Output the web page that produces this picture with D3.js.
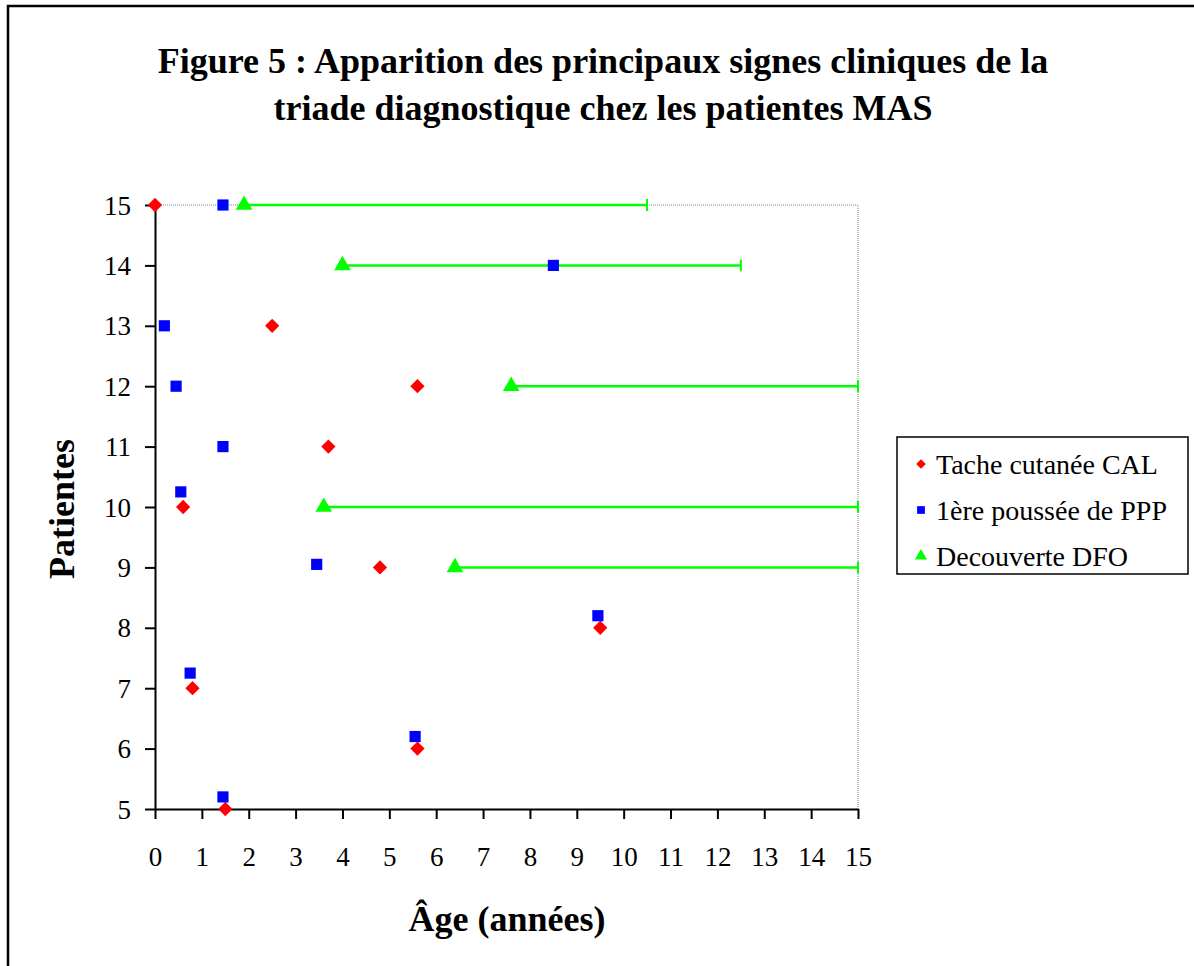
<!DOCTYPE html>
<html>
<head>
<meta charset="utf-8">
<script src="https://cdn.jsdelivr.net/npm/d3@7"></script>
<style>
  body { margin: 0; background: #fff; }
  text { font-family: "Liberation Serif", "Times New Roman", serif; }
</style>
</head>
<body>
<div id="chart"></div>
<script>
var svgWidth = 1194;
var svgHeight = 966;

// data
var ticksX = d3.range(0, 16);
var ticksY = d3.range(5, 16);

var calAge = [0, 2.5, 5.6, 3.7, 0.6, 4.8, 9.5, 0.8, 5.6, 1.5];
var calPat = [15, 13, 12, 11, 10, 9, 8, 7, 6, 5];

var pppAge = [1.45, 8.5, 0.2, 0.45, 1.45, 0.55, 3.45, 9.45, 0.75, 5.55, 1.45];
var pppPat = [15, 14, 13, 12, 11, 10.25, 9.05, 8.2, 7.25, 6.2, 5.2];

var dfoAge = [1.9, 4, 7.6, 3.6, 6.4];
var dfoPat = [15, 14, 12, 10, 9];
var dfoErr = [8.6, 8.5, 7.4, 11.4, 8.6];

var legendLabels = ["Tache cutanée CAL", "1ère poussée de PPP", "Decouverte DFO"];
var colors = ["#ff0000", "#0000ff", "#00ff00"];

var margin = { top: 205, left: 155 };
var width = 703;
var height = 604;

var svg = d3.select("#chart")
  .append("svg")
  .attr("width", svgWidth)
  .attr("height", svgHeight);

// outer frame
svg.append("rect")
  .attr("x", 8).attr("y", 6)
  .attr("width", 1300).attr("height", 1100)
  .attr("fill", "white")
  .attr("stroke", "black")
  .attr("stroke-width", 2.5);

// title
var title = svg.append("text")
  .attr("text-anchor", "middle")
  .attr("font-size", 36)
  .attr("font-weight", "bold");
title.append("tspan").attr("x", 603).attr("y", 73)
  .text("Figure 5 : Apparition des principaux signes cliniques de la");
title.append("tspan").attr("x", 603).attr("y", 120)
  .text("triade diagnostique chez les patientes MAS");

var chartGroup = svg.append("g")
  .attr("transform", `translate(${margin.left}, ${margin.top})`);

var xScale = d3.scaleLinear().domain([0, 15]).range([0, width]);
var yScale = d3.scaleLinear().domain([5, 15]).range([height, 0]);

// plot area border (grey dotted)
chartGroup.append("path")
  .attr("d", `M0,0 H${width} V${height}`)
  .attr("fill", "none")
  .attr("stroke", "#888")
  .attr("stroke-width", 1)
  .attr("stroke-dasharray", "1,1");

var bottomAxis = d3.axisBottom(xScale).tickValues(ticksX).tickSize(10).tickSizeOuter(0).tickPadding(28);
var leftAxis = d3.axisLeft(yScale).tickValues(ticksY).tickSize(10).tickSizeOuter(0).tickPadding(14);

var gx = chartGroup.append("g")
  .attr("transform", `translate(0, ${height})`)
  .call(bottomAxis);
var gy = chartGroup.append("g").call(leftAxis);

[gx, gy].forEach(function (g) {
  g.selectAll("path").attr("stroke", "black").attr("stroke-width", 2);
  g.selectAll("line").attr("stroke", "black").attr("stroke-width", 2);
  g.selectAll("text")
    .attr("font-family", "Liberation Serif, Times New Roman, serif")
    .attr("font-size", 27)
    .attr("fill", "black");
});
gy.selectAll("text").attr("dy", "0.34em");

// axis titles
svg.append("text")
  .attr("x", 507).attr("y", 931)
  .attr("text-anchor", "middle")
  .attr("font-size", 36).attr("font-weight", "bold")
  .text("Âge (années)");

svg.append("text")
  .attr("transform", "translate(74, 509) rotate(-90)")
  .attr("text-anchor", "middle")
  .attr("font-size", 36).attr("font-weight", "bold")
  .text("Patientes");

// error bars for DFO
var errG = chartGroup.append("g");
dfoAge.forEach(function (a, i) {
  var x0 = xScale(a), x1 = xScale(a + dfoErr[i]), y = yScale(dfoPat[i]);
  errG.append("line")
    .attr("x1", x0).attr("x2", x1).attr("y1", y).attr("y2", y)
    .attr("stroke", colors[2]).attr("stroke-width", 2.5);
  errG.append("line")
    .attr("x1", x1).attr("x2", x1).attr("y1", y - 6).attr("y2", y + 6)
    .attr("stroke", colors[2]).attr("stroke-width", 2);
});

var diamond = d3.symbol().type(d3.symbolDiamond2).size(130);
var square = d3.symbol().type(d3.symbolSquare).size(125);
var triangle = d3.symbol().type(d3.symbolTriangle).size(120);

chartGroup.selectAll(".cal")
  .data(calAge)
  .enter()
  .append("path")
  .attr("d", diamond)
  .attr("transform", (d, i) => `translate(${xScale(d)}, ${yScale(calPat[i])})`)
  .attr("fill", colors[0]);

chartGroup.selectAll(".ppp")
  .data(pppAge)
  .enter()
  .append("path")
  .attr("d", square)
  .attr("transform", (d, i) => `translate(${xScale(d)}, ${yScale(pppPat[i])})`)
  .attr("fill", colors[1]);

chartGroup.selectAll(".dfo")
  .data(dfoAge)
  .enter()
  .append("path")
  .attr("d", triangle)
  .attr("transform", (d, i) => `translate(${xScale(d)}, ${yScale(dfoPat[i])})`)
  .attr("fill", colors[2]);

// legend
var legend = svg.append("g").attr("transform", "translate(897, 437)");
legend.append("rect")
  .attr("width", 291).attr("height", 137)
  .attr("fill", "white").attr("stroke", "black").attr("stroke-width", 1.5);

var legSyms = [d3.symbol().type(d3.symbolDiamond2).size(60),
               d3.symbol().type(d3.symbolSquare).size(60),
               d3.symbol().type(d3.symbolTriangle).size(65)];
legendLabels.forEach(function (lab, i) {
  var y = 27 + i * 46;
  legend.append("path")
    .attr("d", legSyms[i])
    .attr("transform", `translate(24, ${y})`)
    .attr("fill", colors[i]);
  legend.append("text")
    .attr("x", 39).attr("y", y)
    .attr("dy", "0.34em")
    .attr("font-size", 28)
    .text(lab);
});
</script>
</body>
</html>
